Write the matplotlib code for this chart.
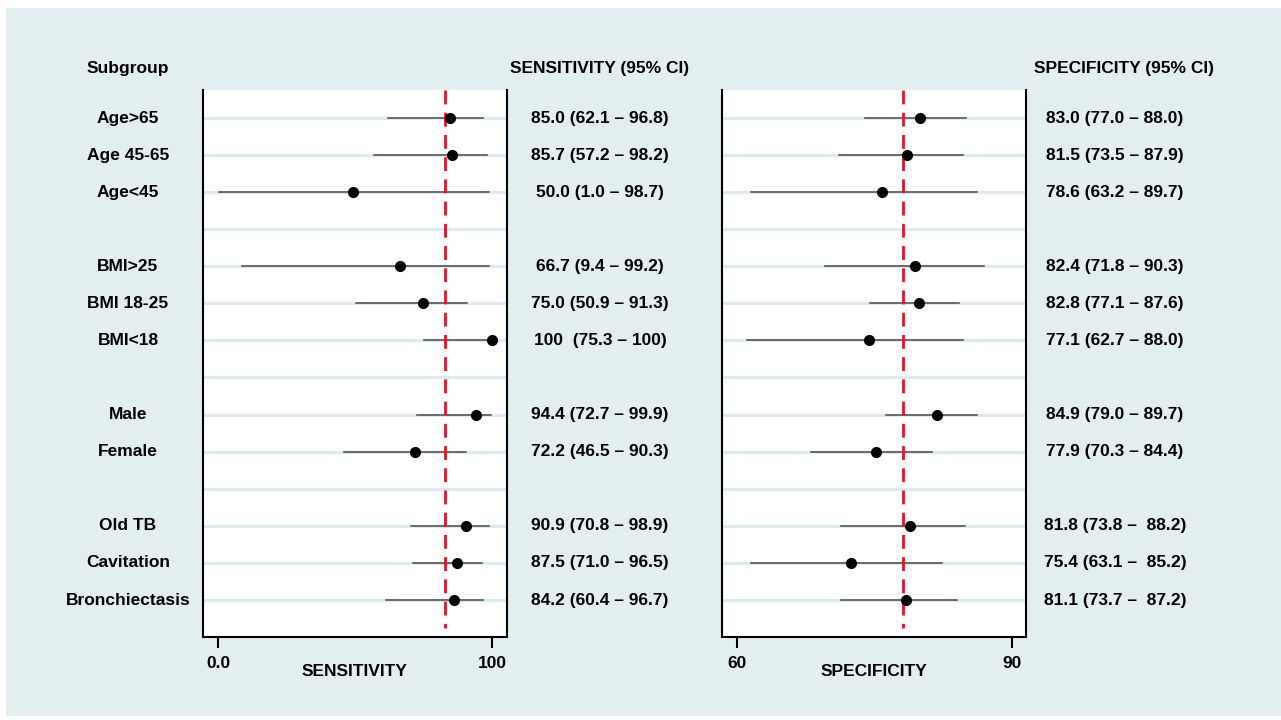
import numpy as np
import matplotlib.pyplot as plt
from matplotlib.patches import Rectangle

plt.rcParams['font.family'] = ['Liberation Sans', 'DejaVu Sans']
plt.rcParams['font.weight'] = 'bold'

# rows (blank strings are spacer rows)
subgroups = ['Age>65', 'Age 45-65', 'Age<45', '',
             'BMI>25', 'BMI 18-25', 'BMI<18', '',
             'Male', 'Female', '',
             'Old TB', 'Cavitation', 'Bronchiectasis']

# sensitivity as drawn
sens     = [84.8, 85.4, 49.4, None, 66.4, 74.7, 99.9, None, 94.2, 71.9, None, 90.6, 87.4, 86.0]
sens_lo  = [62.0, 56.9, 0.5, None, 8.6, 50.5, 75.3, None, 72.6, 46.0, None, 70.6, 71.0, 61.2]
sens_hi  = [96.8, 98.2, 98.8, None, 99.1, 91.0, 100.0, None, 99.8, 90.4, None, 98.8, 96.3, 96.9]
sens_txt = ['85.0 (62.1 \u2013 96.8)', '85.7 (57.2 \u2013 98.2)', '50.0 (1.0 \u2013 98.7)', '',
            '66.7 (9.4 \u2013 99.2)', '75.0 (50.9 \u2013 91.3)', '100  (75.3 \u2013 100)', '',
            '94.4 (72.7 \u2013 99.9)', '72.2 (46.5 \u2013 90.3)', '',
            '90.9 (70.8 \u2013 98.9)', '87.5 (71.0 \u2013 96.5)', '84.2 (60.4 \u2013 96.7)']
sens_ref = 83.0

# specificity as drawn
spec     = [80.0, 78.5, 75.8, None, 79.4, 79.9, 74.4, None, 81.8, 75.2, None, 78.9, 72.4, 78.4]
spec_lo  = [74.0, 71.1, 61.6, None, 69.6, 74.5, 61.1, None, 76.3, 68.1, None, 71.4, 61.6, 71.4]
spec_hi  = [85.0, 84.6, 86.2, None, 86.9, 84.2, 84.6, None, 86.2, 81.3, None, 84.9, 82.4, 84.0]
spec_txt = ['83.0 (77.0 \u2013 88.0)', '81.5 (73.5 \u2013 87.9)', '78.6 (63.2 \u2013 89.7)', '',
            '82.4 (71.8 \u2013 90.3)', '82.8 (77.1 \u2013 87.6)', '77.1 (62.7 \u2013 88.0)', '',
            '84.9 (79.0 \u2013 89.7)', '77.9 (70.3 \u2013 84.4)', '',
            '81.8 (73.8 \u2013  88.2)', '75.4 (63.1 \u2013  85.2)', '81.1 (73.7 \u2013  87.2)']
spec_ref = 78.1

W, H = 1281, 720
FS = 12.5
fig = plt.figure(figsize=(W / 100, H / 100), dpi=100)
fig.patch.set_facecolor('white')
fig.patches.append(Rectangle((6 / W, 4 / H), 1 - 6 / W, 1 - 12 / H, transform=fig.transFigure,
                             facecolor='#e2eef0', edgecolor='none', zorder=-10))

n = len(subgroups)
rows = np.arange(n)
grid_col = '#dcebee'


def panel(left, vals, lo, hi, ref, xlim, ticks, ticklabels, xlabel):
    ax = fig.add_axes([left / W, (H - 637) / H, 304 / W, 547 / H])
    ax.set_zorder(5)
    ax.set_facecolor('white')
    for r in rows:
        ax.axhline(r, color=grid_col, lw=2.2, zorder=1)
    for r in rows:
        if vals[r] is None:
            continue
        ax.plot([lo[r], hi[r]], [r, r], color='#555555', lw=1.2, zorder=2)
        ax.plot(vals[r], r, 'o', color='black', ms=7, zorder=4)
    ax.plot([ref, ref], [-0.75, 13.75], color='#e8102a', lw=2, dashes=(5, 3), zorder=3)
    ax.set_xlim(*xlim)
    ax.set_ylim(14.0, -0.755)
    ax.set_yticks([])
    ax.set_xticks(ticks)
    ax.set_xticklabels(ticklabels, fontsize=FS, fontweight='bold')
    ax.tick_params(axis='x', length=8, width=1.5, pad=6)
    ax.spines['top'].set_visible(False)
    for s in ['left', 'right', 'bottom']:
        ax.spines[s].set_linewidth(1.5)
    ax.set_xlabel(xlabel, fontsize=FS, fontweight='bold', labelpad=-5)
    return ax


ax1 = panel(203, sens, sens_lo, sens_hi, sens_ref, (-5.5, 105.5), [0, 100], ['0.0', '100'], 'SENSITIVITY')
ax2 = panel(722, spec, spec_lo, spec_hi, spec_ref, (58.4, 91.5), [60, 90], ['60', '90'], 'SPECIFICITY')

# text columns
def fy(r):
    return (H - (118 + 37.08 * r)) / H

fig.text(128 / W, (H - 68) / H, 'Subgroup', ha='center', va='center', fontsize=FS, fontweight='bold')
fig.text(600 / W, (H - 68) / H, 'SENSITIVITY (95% CI)', ha='center', va='center', fontsize=FS, fontweight='bold')
fig.text(1124 / W, (H - 68) / H, 'SPECIFICITY (95% CI)', ha='center', va='center', fontsize=FS, fontweight='bold')
for r in rows:
    fig.text(128 / W, fy(r), subgroups[r], ha='center', va='center', fontsize=FS, fontweight='bold')
    fig.text(600 / W, fy(r), sens_txt[r], ha='center', va='center', fontsize=FS, fontweight='bold')
    fig.text(1115 / W, fy(r), spec_txt[r], ha='center', va='center', fontsize=FS, fontweight='bold')

fig.savefig('out.png', dpi=100)
